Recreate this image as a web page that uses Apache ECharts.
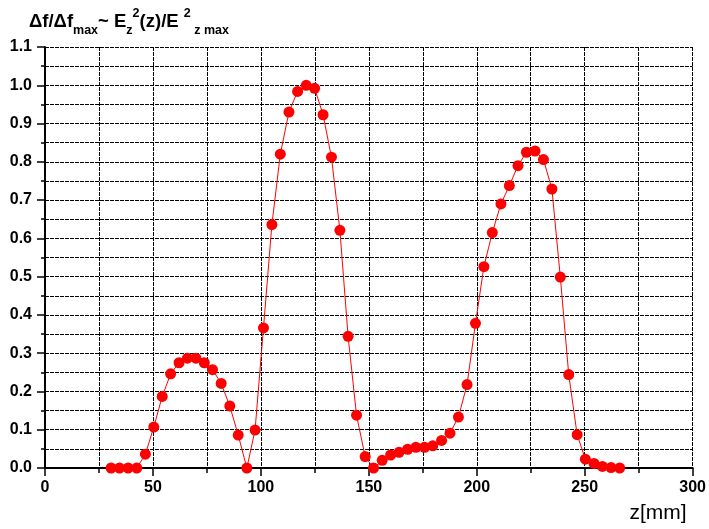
<!DOCTYPE html>
<html>
<head>
<meta charset="utf-8">
<script src="https://cdn.jsdelivr.net/npm/echarts@6/dist/echarts.min.js"></script>
<style>
  html, body { margin: 0; padding: 0; background: #fff; }
  #chart { width: 709px; height: 529px; }
</style>
</head>
<body>
<div id="chart"></div>
<script>
// Axial position of each measurement point, z in mm
const zPositions = [
  30.6, 34.5, 38.5, 42.5, 46.5, 50.4, 54.3, 58.2, 62.1, 66.0,
  69.9, 73.8, 77.6, 81.6, 85.6, 89.5, 93.5, 97.3, 101.2, 105.1,
  109.0, 113.0, 117.0, 121.0, 124.9, 128.8, 132.7, 136.6, 140.4, 144.3,
  148.3, 152.2, 156.2, 160.1, 164.0, 168.0, 171.8, 175.8, 179.6, 183.7,
  187.6, 191.5, 195.5, 199.4, 203.3, 207.2, 211.2, 215.1, 219.1, 223.0,
  227.0, 230.9, 234.8, 238.7, 242.6, 246.5, 250.3, 254.3, 258.2, 262.2,
  266.2
];

// Normalised frequency shift, proportional to Ez^2
const freqShift = [
  0.000, 0.000, 0.000, 0.000, 0.036, 0.107, 0.187, 0.246, 0.275, 0.287,
  0.287, 0.275, 0.257, 0.221, 0.162, 0.086, 0.000, 0.099, 0.366, 0.636,
  0.820, 0.930, 0.984, 1.000, 0.992, 0.923, 0.812, 0.621, 0.344, 0.138,
  0.030, 0.000, 0.020, 0.034, 0.041, 0.049, 0.054, 0.054, 0.058, 0.072,
  0.091, 0.133, 0.218, 0.378, 0.526, 0.615, 0.690, 0.738, 0.790, 0.825,
  0.828, 0.806, 0.729, 0.499, 0.244, 0.087, 0.023, 0.012, 0.004, 0.001,
  0.000
];

// Axis ranges and tick steps
const xRange = [0, 300];
const xStep = 50;
const yRange = [0, 1.1];
const yStep = 0.1;

const points = zPositions.map((z, i) => [z, freqShift[i]]);

const FONT = '"Liberation Sans", Arial, sans-serif';
const gridDash = {color: '#000', width: 1, type: [4, 1]};

const chart = echarts.init(document.getElementById('chart'), null, {renderer: 'canvas'});

chart.setOption({
  backgroundColor: '#fff',
  animation: false,
  title: {
    left: 24,
    top: 2,
    text: '{m|Δf/Δf}{sub|max}{m|~ E}{sub|z}{sup|2}{m|(z)/E }{sup|2}{sub| z max}',
    textStyle: {
      rich: {
        m:   {fontFamily: FONT, fontWeight: 'bold', fontSize: 18.5, color: '#000', lineHeight: 30, verticalAlign: 'middle'},
        sub: {fontFamily: FONT, fontWeight: 'bold', fontSize: 12.5, color: '#000', lineHeight: 13, verticalAlign: 'bottom'},
        sup: {fontFamily: FONT, fontWeight: 'bold', fontSize: 12.5, color: '#000', lineHeight: 13, verticalAlign: 'top'}
      }
    }
  },
  grid: {left: 45, right: 15, top: 47, bottom: 61, containLabel: false},
  xAxis: [{
    type: 'value',
    min: xRange[0],
    max: xRange[1],
    interval: xStep,
    name: 'z[mm]',
    nameLocation: 'end',
    nameGap: 0,
    nameTextStyle: {
      fontFamily: FONT, fontSize: 21, color: '#000',
      align: 'right', verticalAlign: 'top', padding: [35, 6, 0, 0]
    },
    axisLine: {show: true, onZero: false, lineStyle: {color: '#000', width: 2}},
    axisTick: {show: true, inside: false, length: 8, lineStyle: {color: '#000', width: 1.5}},
    minorTick: {show: true, splitNumber: 2, length: 5, lineStyle: {color: '#000', width: 1.5}},
    axisLabel: {fontFamily: FONT, fontWeight: 'bold', fontSize: 16, color: '#000', margin: 12},
    splitLine: {show: true, lineStyle: gridDash},
    minorSplitLine: {show: true, lineStyle: gridDash}
  }, {
    // plain frame line along the top edge
    type: 'value',
    position: 'top',
    min: xRange[0],
    max: xRange[1],
    axisLine: {show: true, lineStyle: {color: '#000', width: 1.5}},
    axisTick: {show: false},
    axisLabel: {show: false},
    splitLine: {show: false}
  }],
  yAxis: {
    type: 'value',
    min: yRange[0],
    max: yRange[1],
    interval: yStep,
    axisLine: {show: true, onZero: false, lineStyle: {color: '#000', width: 2}},
    axisTick: {show: true, inside: false, length: 8, lineStyle: {color: '#000', width: 1.5}},
    minorTick: {show: true, splitNumber: 2, length: 4, lineStyle: {color: '#000', width: 1.5}},
    axisLabel: {
      fontFamily: FONT, fontWeight: 'bold', fontSize: 16, color: '#000', margin: 13,
      formatter: v => v.toFixed(1)
    },
    splitLine: {show: true, lineStyle: gridDash},
    minorSplitLine: {show: true, lineStyle: gridDash}
  },
  series: [{
    type: 'line',
    xAxisIndex: 0,
    data: points,
    symbol: 'circle',
    symbolSize: 11,
    showSymbol: true,
    smooth: false,
    itemStyle: {color: '#ff0000'},
    lineStyle: {color: '#ff0000', width: 1}
  }]
});
</script>
</body>
</html>
